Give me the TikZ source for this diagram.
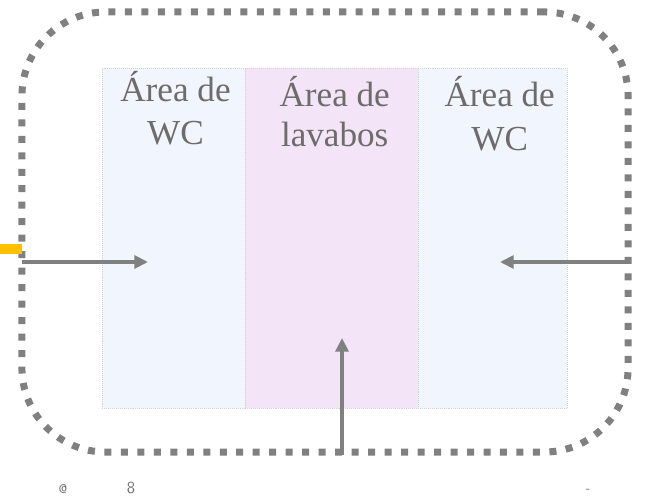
\documentclass[tikz,border=0pt]{standalone}
\usepackage{fontspec}
\usepackage{xcolor}
\usepackage{tikz}
\usetikzlibrary{arrows.meta, positioning}

\newfontfamily\roomfont{Liberation Serif}

\definecolor{wcblue}{HTML}{F1F5FD}
\definecolor{sinkpink}{HTML}{F3E4F7}
\definecolor{wallgray}{HTML}{808080}
\definecolor{textgray}{HTML}{6E6B6B}
\definecolor{entryorange}{HTML}{FFC000}

\begin{document}
\begin{tikzpicture}[
    x=0.025cm, y=-0.025cm,
    room/.style={
        rectangle, draw=gray!35, densely dotted, line width=0.4pt,
        minimum height=8.5cm, inner sep=0pt
    },
    hall/.style={
        rectangle, draw=wallgray, rounded corners=2.1cm,
        line width=0.175cm, dash pattern=on 0.175cm off 0.237cm,
        minimum width=15.15cm, minimum height=11cm, inner sep=0pt
    },
    lbl/.style={font=\roomfont\fontsize{25}{31}\selectfont, text=textgray, align=center, inner sep=0pt},
    arrow/.style={-{Triangle[length=3.4mm, width=3.2mm]}, draw=wallgray, line width=0.1cm},
    note/.style={font=\sffamily\fontsize{9}{10}\selectfont, text=textgray, inner sep=0pt}
]
    \useasboundingbox (0,0) rectangle (649,498);

    % rooms
    \node[room, fill=wcblue, minimum width=3.575cm] (wcL) at (173.5,238) {};
    \node[room, fill=sinkpink, minimum width=4.325cm] (sinks) at (331.5,238) {};
    \node[room, fill=wcblue, minimum width=3.725cm] (wcR) at (492.5,238) {};

    \node[lbl, below=0.08cm of wcL.north, xshift=0.05cm] (wcLtxt) {Área de\\WC};
    \node[lbl, below=0.22cm of sinks.north, xshift=0.08cm,
          font=\roomfont\fontsize{25}{28}\selectfont] (sinkstxt) {Área de\\lavabos};
    \node[lbl, below=0.22cm of wcR.north, xshift=0.18cm] (wcRtxt) {Área de\\WC};

    % outer wall
    \node[hall] (wall) at (325,232) {};
    \fill[entryorange] (0,244) rectangle (22,254);

    % entries
    \coordinate (doorL) at (22,262);
    \coordinate (doorR) at (628,262);
    \coordinate (doorB) at (342,455);
    \coordinate (tipL) at (148,262);
    \coordinate (tipR) at (500,262);
    \coordinate (tipB) at (342,338);
    \draw[arrow] (doorL) -- (tipL);
    \draw[arrow] (doorR) -- (tipR);
    \draw[arrow] (doorB) -- (tipB);

    % footer
    \node[note] (at) at (63,489) {@};
    \node[note, font=\sffamily\fontsize{12}{13}\selectfont] (eight) at (131,488) {8};
    \node[note] (dash) at (588,491) {-};
\end{tikzpicture}
\end{document}
